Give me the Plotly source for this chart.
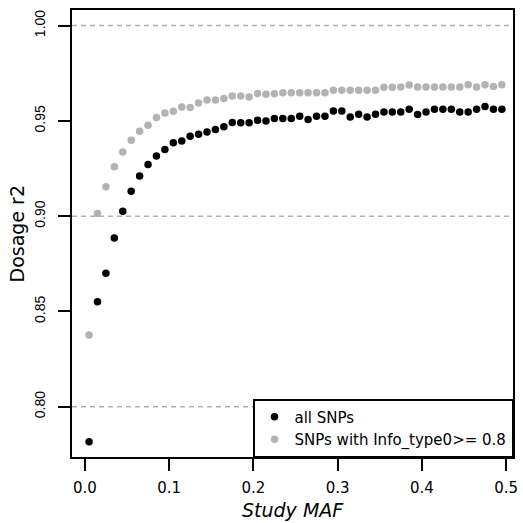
import plotly.graph_objects as go

# Study MAF bin midpoints (50 bins of width 0.01)
maf = [round(0.005 + 0.01 * i, 3) for i in range(50)]

all_snps = [
    0.7816, 0.8551, 0.8700, 0.8886, 0.9026, 0.9131, 0.9211, 0.9271, 0.9316, 0.9350,
    0.9385, 0.9395, 0.9420, 0.9430, 0.9442, 0.9455, 0.9469, 0.9492, 0.9490, 0.9490,
    0.9504, 0.9500, 0.9513, 0.9513, 0.9513, 0.9525, 0.9507, 0.9525, 0.9525, 0.9552,
    0.9552, 0.9521, 0.9535, 0.9521, 0.9535, 0.9547, 0.9547, 0.9547, 0.9561, 0.9534,
    0.9547, 0.9561, 0.9561, 0.9561, 0.9547, 0.9547, 0.9561, 0.9575, 0.9561, 0.9561,
]

info_snps = [
    0.8376, 0.9014, 0.9154, 0.9259, 0.9337, 0.9399, 0.9446, 0.9477, 0.9518, 0.9542,
    0.9551, 0.9573, 0.9570, 0.9594, 0.9609, 0.9609, 0.9617, 0.9630, 0.9630, 0.9626,
    0.9644, 0.9640, 0.9642, 0.9648, 0.9648, 0.9648, 0.9648, 0.9648, 0.9648, 0.9661,
    0.9661, 0.9661, 0.9661, 0.9661, 0.9661, 0.9676, 0.9676, 0.9678, 0.9688, 0.9678,
    0.9678, 0.9678, 0.9678, 0.9678, 0.9678, 0.9690, 0.9678, 0.9690, 0.9680, 0.9690,
]

series_names = ["all SNPs", "SNPs with Info_type0>= 0.8"]
x_ticks = [0.0, 0.1, 0.2, 0.3, 0.4, 0.5]
x_ticklabels = ["0.0", "0.1", "0.2", "0.3", "0.4", "0.5"]
y_ticks = [0.80, 0.85, 0.90, 0.95, 1.00]
y_ticklabels = ["0.80", "0.85", "0.90", "0.95", "1.00"]
grid_levels = [0.80, 0.90, 1.00]

fig = go.Figure()
fig.add_trace(go.Scatter(x=maf, y=all_snps, mode="markers", name=series_names[0],
                         marker=dict(color="black", size=7.5, line=dict(width=0))))
fig.add_trace(go.Scatter(x=maf, y=info_snps, mode="markers", name=series_names[1],
                         marker=dict(color="#B3B3B3", size=7.5, line=dict(width=0))))

for g in grid_levels:
    fig.add_shape(type="line", xref="paper", x0=0, x1=1, yref="y", y0=g, y1=g,
                  line=dict(color="#B0B0B0", width=1.5, dash="5px,4px"), layer="below")

fig.update_layout(
    width=523, height=523,
    margin=dict(l=72, r=5, t=10, b=66),
    plot_bgcolor="white", paper_bgcolor="white",
    font=dict(family="DejaVu Sans", color="black"),
    showlegend=True,
    legend=dict(x=1, y=0, xanchor="right", yanchor="bottom",
                bgcolor="white", bordercolor="black", borderwidth=1.5,
                font=dict(family="DejaVu Sans", size=15, color="black"),
                tracegroupgap=0),
    annotations=[
        dict(text="<i>Study MAF</i>", xref="paper", yref="paper", x=0.5, y=0,
             xanchor="center", yanchor="top", yshift=-40, showarrow=False,
             font=dict(family="DejaVu Sans", size=19, color="black")),
        dict(text="Dosage r2", xref="paper", yref="paper", x=0, y=0.5,
             xanchor="right", yanchor="middle", xshift=-43, textangle=-90, showarrow=False,
             font=dict(family="DejaVu Sans", size=19, color="black")),
    ],
)

fig.update_xaxes(range=[-0.01526, 0.50822], tickvals=x_ticks, ticktext=x_ticklabels,
                 showgrid=False, zeroline=False, showline=True, linecolor="black",
                 linewidth=1.5, mirror=True, ticks="outside", ticklen=12, tickwidth=1.5,
                 tickcolor="black", tickfont=dict(family="DejaVu Sans", size=15),
                 ticklabelstandoff=4)
fig.update_yaxes(range=[0.7736, 1.0082], tickvals=y_ticks, ticktext=y_ticklabels,
                 showgrid=False, zeroline=False, showline=True, linecolor="black",
                 linewidth=1.5, mirror=True, ticks="outside", ticklen=12, tickwidth=1.5,
                 tickcolor="black", tickangle=-90,
                 tickfont=dict(family="Liberation Sans", size=14),
                 ticklabelstandoff=8)

fig.write_html("out.html",
               config={"displayModeBar": False},
               post_script="document.body.style.margin='0';document.body.style.padding='0';document.body.style.overflow='hidden';")
